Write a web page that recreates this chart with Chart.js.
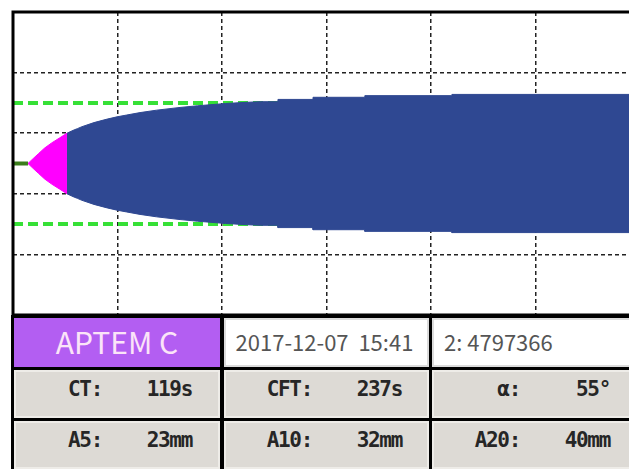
<!DOCTYPE html>
<html>
<head>
<meta charset="utf-8">
<script src="https://cdn.jsdelivr.net/npm/chart.js@4.4.1/dist/chart.umd.min.js"></script>
<style>
  html, body { margin: 0; padding: 0; background: #fff; width: 629px; height: 469px; overflow: hidden; }
  #stage { position: absolute; left: 0; top: 0; width: 629px; height: 469px; overflow: hidden; background: #fff; }
  #plot { position: absolute; left: 0; top: 0; width: 660px; height: 318px; }
  #panel { position: absolute; left: 11px; top: 315px; width: 640px; height: 160px; background: #000; }
  .cell { position: absolute; box-sizing: border-box; overflow: hidden; }
  .light { background: #ffffff; box-shadow: inset 0 0 0 2px #dcdcdc; }
  .grey { background: #dddad5; box-shadow: inset 0 0 0 2px #eeece8; }
  .name { background: #b35ef2; color: #fbe4f8; font-family: "Noto Sans CJK KR", "Noto Sans", sans-serif;
          font-size: 30px; text-align: center; }
  .info { color: #555; font-family: "Noto Sans CJK KR", "Noto Sans", sans-serif; font-size: 22px; white-space: pre; }
  .param { position: absolute; color: #262626; font-family: "DejaVu Sans Mono", monospace; font-weight: bold;
           font-size: 21px; letter-spacing: -1.3px; white-space: pre; text-align: right; }
</style>
</head>
<body>
<div id="stage">
  <div id="plot"><canvas id="chart" width="660" height="318"></canvas></div>
  <div id="panel"></div>
</div>
<script>
// ---- Run information ----
const testName = 'APTEM C';
const runStamp = '2017-12-07  15:41';
const sampleId = '2: 4797366';

// ---- Measured parameters ----
const CT_S = 119;      // clotting time, s
const CFT_S = 237;     // clot formation time, s
const ALPHA_DEG = 55;  // alpha angle
const A5_MM = 23, A10_MM = 32, A20_MM = 40;

// ---- Time axis (s) ----
const traceStart = 28;
const traceEnd = 3838;
const timeGrid = [663, 1298, 1933, 2568, 3203];

// ---- Amplitude axis (mm, half-width above/below the centre line) ----
const ampMin = -50, ampMax = 50;
const ampGrid = [-30, -10, 10, 30];
const guideAmp = 40;   // reference band, full amplitude in mm

// ---- Trace: clotting time (flat line) ----
const ctTimes = [traceStart, CT_S];

// ---- Trace: clot formation (CT .. CT+CFT), full amplitude mm ----
const cftTimes = [CT_S, 150, 182, 220, 263, 310, CT_S + CFT_S];
const cftAmp   = [0,    3.2, 6.4, 10.2, 13.6, 16.8, 20];

// ---- Trace: firmness after CFT, full amplitude mm ----
const mcfTimes = [356, 400, CT_S + 300, 447, 520, 600, 660, CT_S + 600, 800, 900, 1043, 1150, CT_S + 1200,
                  1450, 1530, 1638, 1638, 1851, 1851, 2166, 2166, 2695, 2695, traceEnd];
const mcfAmp   = [20, 22.2, A5_MM, 24.3, 27.0, 29.3, 30.8, A10_MM, 33.6, 35.2, 37.0, 38.1, 39.6,
                  40.4, 40.8, 40.8, 42.3, 42.3, 43.7, 43.7, 44.8, 44.8, 45.6, 45.6];

// ---- Parameter table ----
const paramLabels = [['CT:', 'CFT:', 'α:'], ['A5:', 'A10:', 'A20:']];
const paramValues = [[CT_S + 's', CFT_S + 's', ALPHA_DEG + '°'], [A5_MM + 'mm', A10_MM + 'mm', A20_MM + 'mm']];

const BLUE = '#2f4892';
const PINK = '#ff00ff';
const CT_GREEN = '#3b7d1c';
const GUIDE_GREEN = '#36e036';

const half = (ts, vs, sign) => ts.map((t, i) => ({ x: t, y: sign * vs[i] / 2 }));
const flat = (ts, y) => ts.map(t => ({ x: t, y }));

const line = (data, color, extra) => Object.assign({
  data, borderColor: color, backgroundColor: color, borderWidth: 1,
  pointRadius: 0, tension: 0, fill: false
}, extra || {});

// black frame on the left, top and bottom of the trace area
const framePlugin = {
  id: 'frame',
  afterDatasetsDraw(chart) {
    const { ctx, chartArea: a } = chart;
    ctx.save();
    ctx.strokeStyle = '#000';
    ctx.lineWidth = 3;
    ctx.beginPath();
    ctx.moveTo(a.right + 10, a.top);
    ctx.lineTo(a.left, a.top);
    ctx.lineTo(a.left, a.bottom);
    ctx.lineTo(a.right + 10, a.bottom);
    ctx.stroke();
    ctx.restore();
  }
};

new Chart(document.getElementById('chart'), {
  type: 'line',
  data: {
    datasets: [
      line(half(mcfTimes, mcfAmp, 1), BLUE, { fill: '+1' }),
      line(half(mcfTimes, mcfAmp, -1), BLUE),
      line(half(cftTimes, cftAmp, 1), PINK, { fill: '+1' }),
      line(half(cftTimes, cftAmp, -1), PINK),
      line(flat(ctTimes, 0), CT_GREEN, { borderWidth: 4 }),
      line(flat([traceStart, traceEnd], guideAmp / 2), GUIDE_GREEN, { borderWidth: 4, borderDash: [10, 5] }),
      line(flat([traceStart, traceEnd], -guideAmp / 2), GUIDE_GREEN, { borderWidth: 4, borderDash: [10, 5] })
    ]
  },
  options: {
    responsive: false,
    animation: false,
    events: [],
    layout: { padding: { left: 13, top: 12, right: 20, bottom: 3 } },
    plugins: { legend: { display: false }, tooltip: { enabled: false } },
    scales: {
      x: {
        type: 'linear', min: traceStart, max: traceEnd,
        afterBuildTicks: s => { s.ticks = timeGrid.map(v => ({ value: v })); },
        ticks: { display: false },
        grid: { color: '#222', lineWidth: 1.5, drawTicks: false },
        border: { display: false, dash: [4, 3] }
      },
      y: {
        type: 'linear', min: ampMin, max: ampMax,
        afterBuildTicks: s => { s.ticks = ampGrid.map(v => ({ value: v })); },
        ticks: { display: false },
        grid: { color: '#222', lineWidth: 1.5, drawTicks: false },
        border: { display: false, dash: [4, 3] }
      }
    }
  },
  plugins: [framePlugin]
});

// ---- Parameter panel ----
const panel = document.getElementById('panel');
const colLeft = [3, 213, 421];       // relative to panel
const colWidth = [206, 205, 220];
const rowTop = [3, 55, 106];
const rowHeight = [49, 48, 48];

function addCell(cls, c, r) {
  const d = document.createElement('div');
  d.className = 'cell ' + cls;
  d.style.left = colLeft[c] + 'px';
  d.style.top = rowTop[r] + 'px';
  d.style.width = colWidth[c] + 'px';
  d.style.height = rowHeight[r] + 'px';
  panel.appendChild(d);
  return d;
}

const nameCell = addCell('name', 0, 0);
nameCell.textContent = testName;
nameCell.style.lineHeight = '46px';

const stampCell = addCell('light info', 1, 0);
stampCell.textContent = runStamp;
stampCell.style.lineHeight = '47px';
stampCell.style.textAlign = 'center';
stampCell.style.paddingRight = '4px';

const idCell = addCell('light info', 2, 0);
idCell.textContent = sampleId;
idCell.style.lineHeight = '47px';
idCell.style.paddingLeft = '12px';

for (let r = 0; r < 2; r++) {
  for (let c = 0; c < 3; c++) {
    const cell = addCell('grey', c, r + 1);
    const h = rowHeight[r + 1] - 9;
    const lab = document.createElement('div');
    lab.className = 'param';
    lab.textContent = paramLabels[r][c];
    lab.style.right = (colWidth[c] - 88) + 'px';
    lab.style.top = '0px';
    lab.style.lineHeight = h + 'px';
    cell.appendChild(lab);
    const val = document.createElement('div');
    val.className = 'param';
    val.textContent = paramValues[r][c];
    val.style.right = (colWidth[c] - 178) + 'px';
    val.style.top = '0px';
    val.style.lineHeight = h + 'px';
    cell.appendChild(val);
  }
}
</script>
</body>
</html>
